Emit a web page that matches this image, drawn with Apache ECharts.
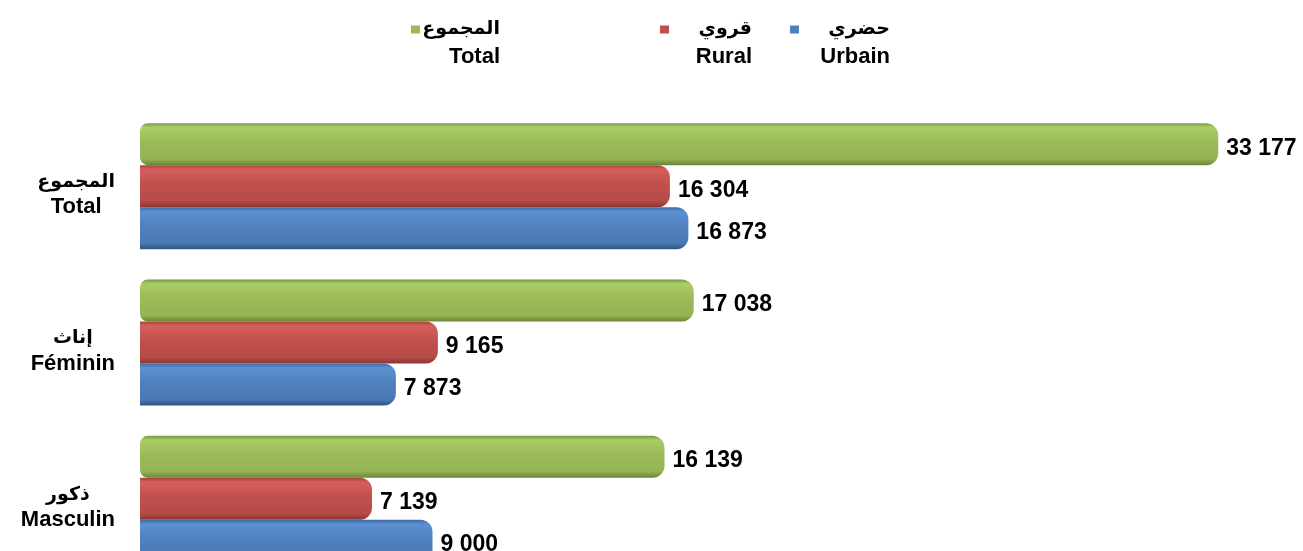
<!DOCTYPE html>
<html>
<head>
<meta charset="utf-8">
<script src="https://cdn.jsdelivr.net/npm/echarts@6/dist/echarts.min.js"></script>
<style>
html,body{margin:0;padding:0;background:#fff;}
#chart{width:1303px;height:551px;}
</style>
</head>
<body>
<div id="chart"></div>
<script>
// ---- data ----
const categories = ['Masculin', 'Féminin', 'Total'];
const categoriesAr = ['ذكور', 'إناث', 'المجموع'];
const seriesNames = ['Urbain', 'Rural', 'Total'];
const seriesNamesAr = ['حضري', 'قروي', 'المجموع'];
const urbain = [9000, 7873, 16873];
const rural = [7139, 9165, 16304];
const total = [16139, 17038, 33177];

// ---- styles ----
const LAT = "'Liberation Sans', Arial, sans-serif";
const AR = "'DejaVu Sans', 'Liberation Sans', sans-serif";
const baseColors = ['#4F81BD', '#C0504D', '#9BBB59'];
const grads = [
  ['#3d6aa0', '#5b90d2', '#4f81bd', '#4a7ab3', '#2f5583'],
  ['#a6403d', '#d65f5b', '#c0504d', '#b64b48', '#8a3532'],
  ['#7a9645', '#aacd64', '#9bbb59', '#94b354', '#6b8536']
];
function grad(c) {
  return new echarts.graphic.LinearGradient(0, 0, 0, 1, [
    {offset: 0, color: c[0]},
    {offset: 0.1, color: c[1]},
    {offset: 0.45, color: c[2]},
    {offset: 0.85, color: c[3]},
    {offset: 1, color: c[4]}
  ]);
}
function fmt(v) {
  return String(v).replace(/\B(?=(\d{3})+(?!\d))/g, ' ');
}

const chart = echarts.init(document.getElementById('chart'), null, {renderer: 'canvas'});
const values = [urbain, rural, total];

const legendPos = [{left: 790, width: 86}, {left: 660, width: 78}, {left: 411, width: 75}];
const legends = seriesNames.map((n, i) => ({
  data: [{name: n, itemStyle: {color: baseColors[i], borderWidth: 0}}],
  left: legendPos[i].left,
  top: 20,
  padding: 0,
  itemWidth: 9,
  itemHeight: 36,
  icon: 'path://M0,0L9,0L9,8L0,8Z M0,36L0.01,36L0.01,36.01Z',
  formatter: name => '{ar|' + seriesNamesAr[seriesNames.indexOf(name)] + '}\n{la|' + name + '}',
  textStyle: {
    width: legendPos[i].width,
    rich: {
      ar: {fontFamily: AR, fontSize: 19, fontWeight: 'bold', color: '#000', lineHeight: 26, align: 'right'},
      la: {fontFamily: LAT, fontSize: 22, fontWeight: 'bold', color: '#000', lineHeight: 28, align: 'right'}
    }
  },
  selectedMode: false
}));

// series listed top-to-bottom within each category: Total, Rural, Urbain
const order = [2, 1, 0];

chart.setOption({
  animation: false,
  backgroundColor: '#fff',
  legend: legends,
  grid: {left: 140, right: 25.5, top: 108, bottom: -26, containLabel: false, outerBoundsMode: 'none'},
  xAxis: {
    type: 'value', min: 0, max: 35000,
    show: false,
    splitLine: {show: false}
  },
  yAxis: {
    type: 'category',
    data: categories,
    axisLine: {show: false},
    axisTick: {show: false},
    axisLabel: {
      margin: 25,
      align: 'right',
      padding: [18, 0, 0, 0],
      formatter: (v, idx) => '{ar|' + categoriesAr[idx] + '}\n{la|' + v + '}',
      rich: {
        ar: {fontFamily: AR, fontSize: 19, fontWeight: 'bold', color: '#000', lineHeight: 24, align: 'center'},
        la: {fontFamily: LAT, fontSize: 22, fontWeight: 'bold', color: '#000', lineHeight: 26, align: 'center'}
      }
    }
  },
  series: order.map(i => ({
    name: seriesNames[i],
    type: 'bar',
    data: values[i],
    barWidth: 42,
    barGap: '0%',
    itemStyle: {color: grad(grads[i]), borderRadius: i === 2 ? [8, 12, 12, 8] : [0, 12, 12, 0]},
    label: {
      show: true,
      position: 'right',
      distance: 8,
      offset: [0, 4],
      fontFamily: LAT,
      fontSize: 23,
      fontWeight: 'bold',
      color: '#000',
      formatter: p => fmt(p.value)
    }
  }))
});
</script>
</body>
</html>
